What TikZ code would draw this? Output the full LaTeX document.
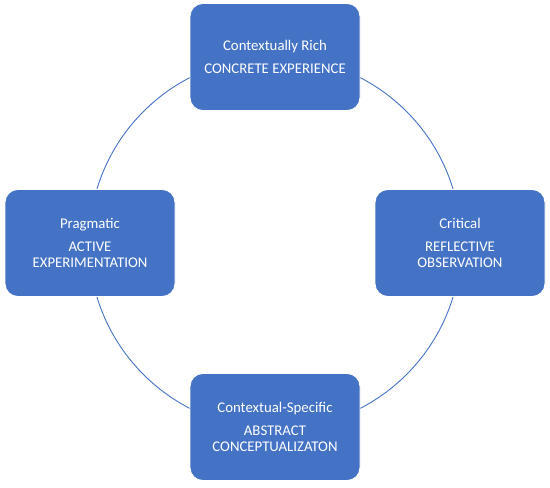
\documentclass[tikz,border=0pt]{standalone}
\usepackage{fontspec}
\setmainfont{Carlito}
\usetikzlibrary{calc,positioning}
\definecolor{boxblue}{HTML}{4472C4}

\begin{document}
\begin{tikzpicture}[x=1pt,y=1pt]
  \tikzstyle{stage}=[draw=white,line width=0.8pt,fill=boxblue,rounded corners=13pt,minimum width=170pt,minimum height=107pt,align=center,text=white,font=\fontsize{14.8}{16}\selectfont,inner sep=2pt]
  \useasboundingbox (0,0) rectangle (550,488);
  \coordinate (c) at (275,245);

  \draw[boxblue,line width=0.9pt] (c) circle (186);

  \node[stage] (ce) at ($(c)+(0,186)$) {Contextually Rich\\[6.5pt]CONCRETE EXPERIENCE};
  \node[stage] (ro) at ($(c)+(185,0)$) {Critical\\[6.5pt]REFLECTIVE\\OBSERVATION};
  \node[stage] (ac) at ($(c)+(0,-184)$) {Contextual-Specific\\[6.5pt]ABSTRACT\\CONCEPTUALIZATON};
  \node[stage] (ae) at ($(c)+(-185,0)$) {Pragmatic\\[6.5pt]ACTIVE\\EXPERIMENTATION};
\end{tikzpicture}
\end{document}
